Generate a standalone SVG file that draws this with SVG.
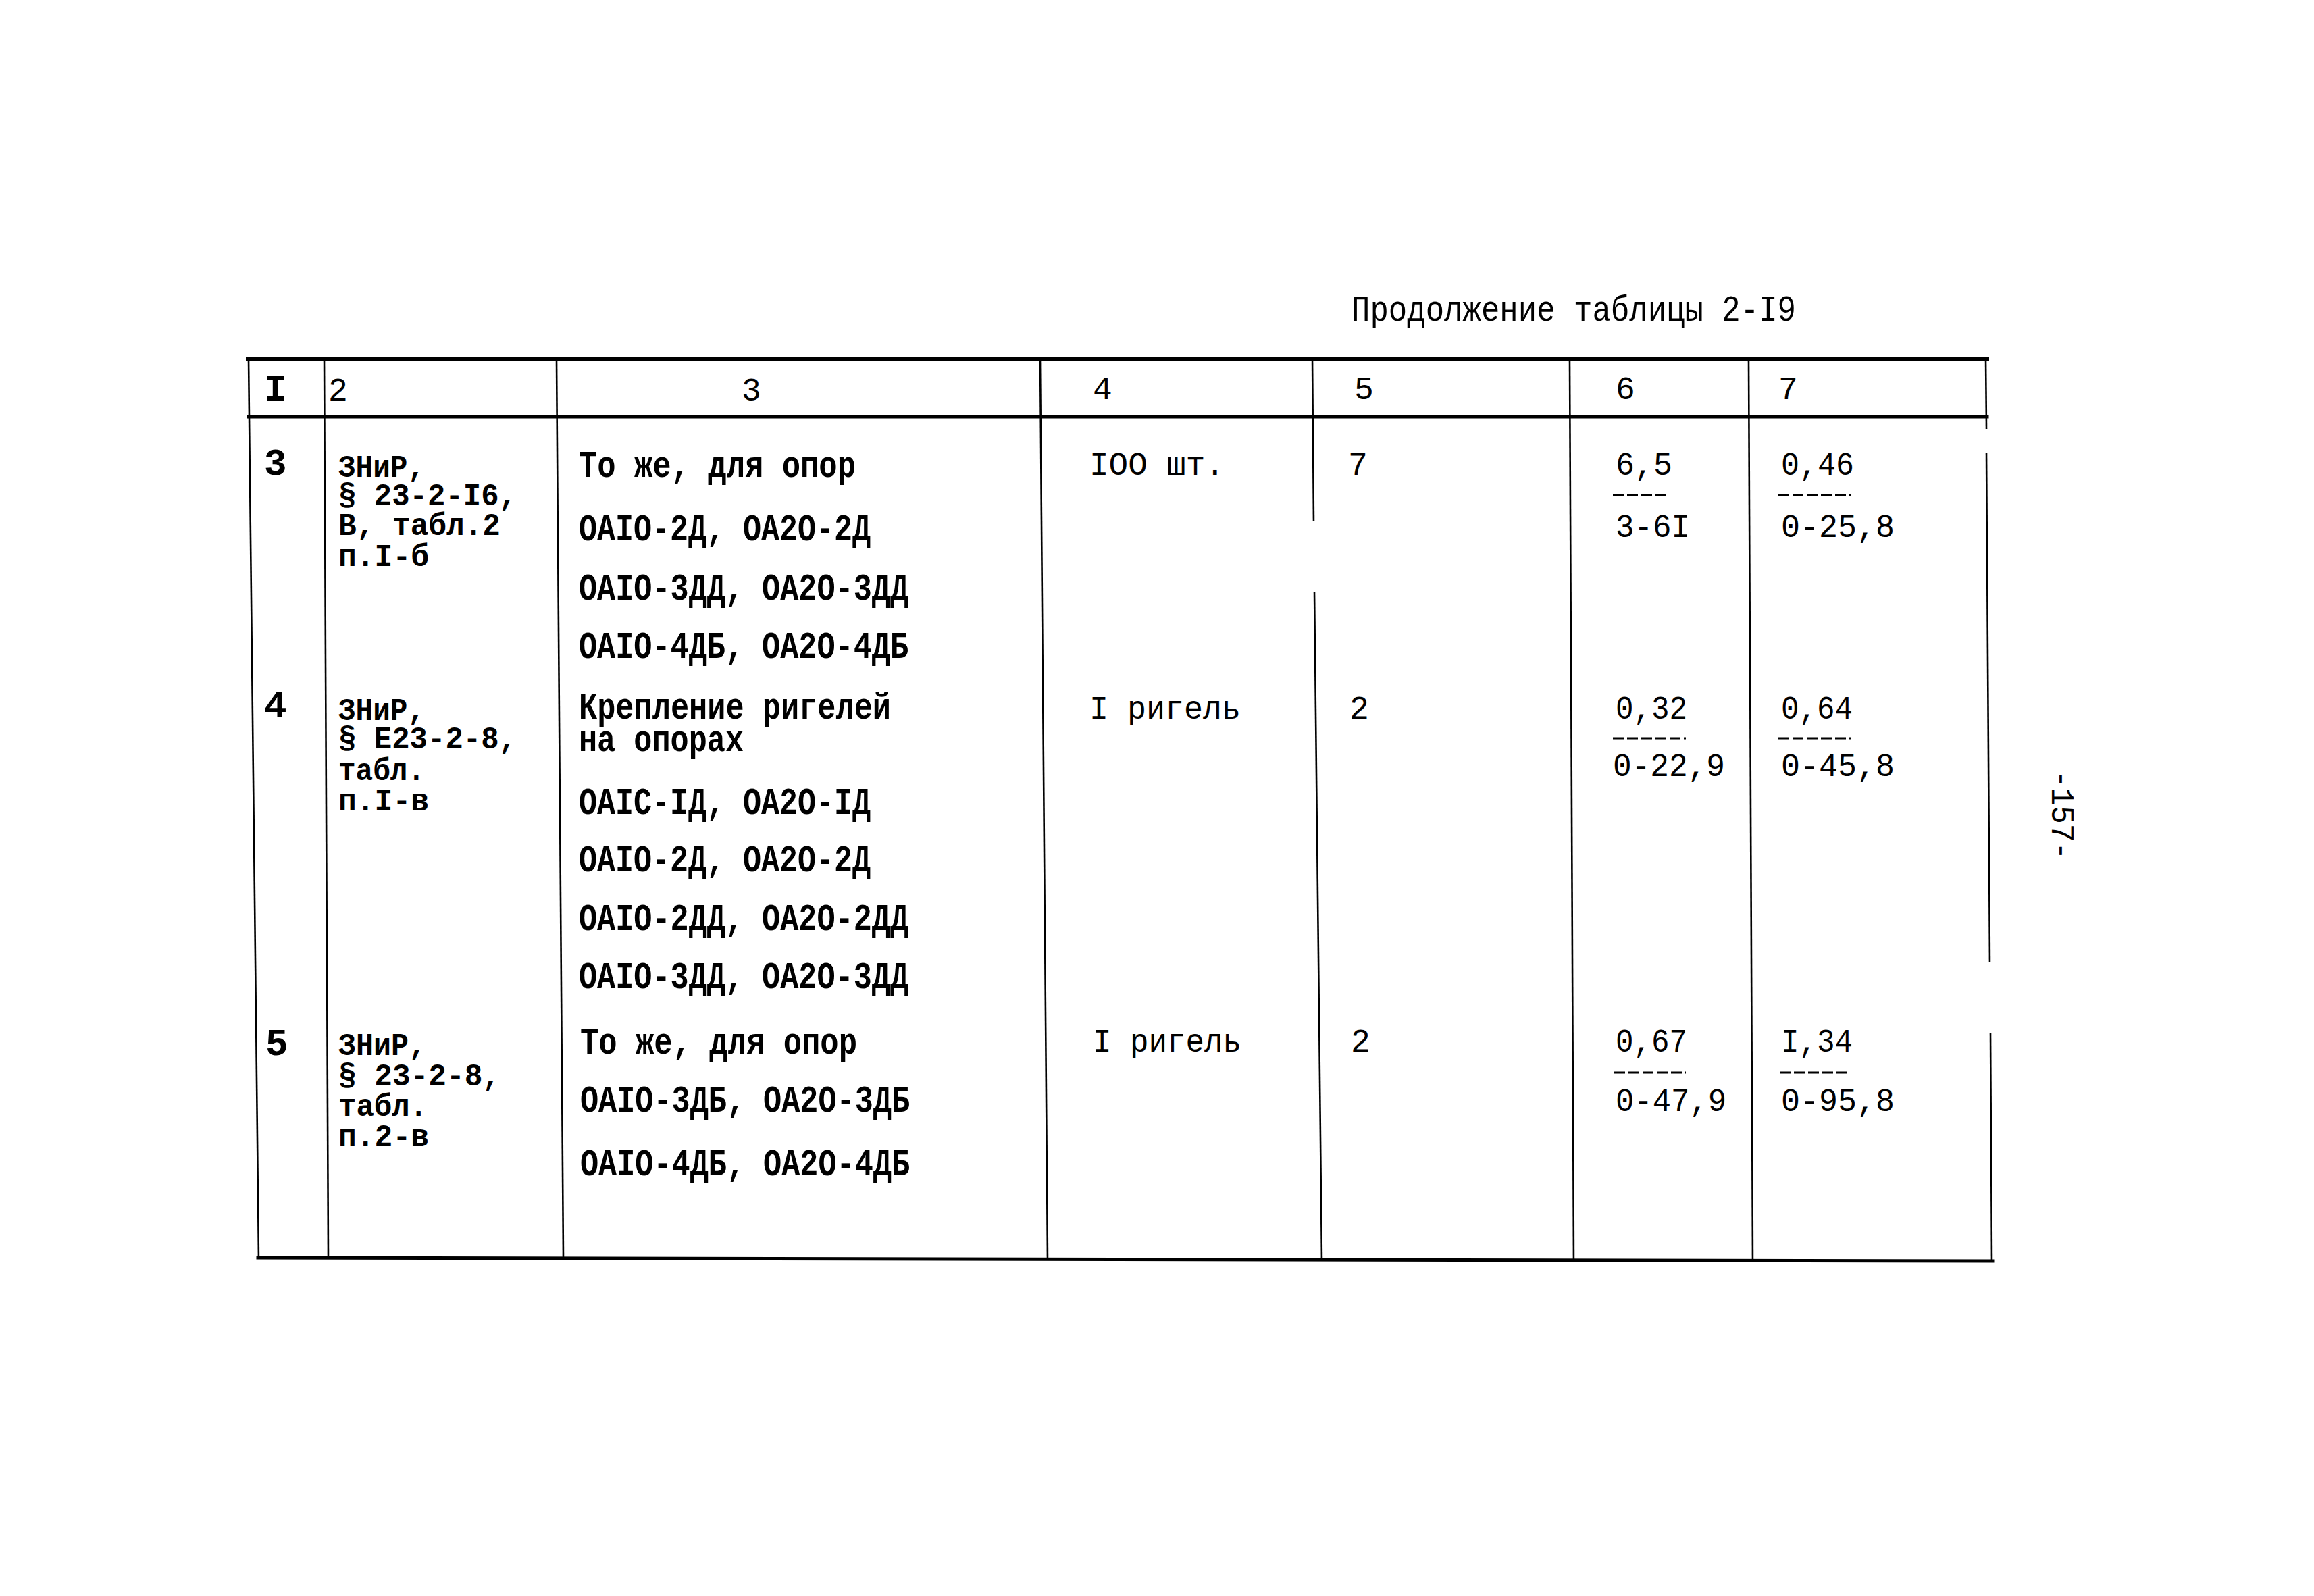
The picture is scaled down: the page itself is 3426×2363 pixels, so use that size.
<svg xmlns="http://www.w3.org/2000/svg" width="3426" height="2363" viewBox="0 0 3426 2363">
<style>
.b{font-family:"Liberation Mono","DejaVu Sans Mono",monospace;font-weight:bold;font-size:56px;fill:#000}
.s{font-family:"Liberation Mono","DejaVu Sans Mono",monospace;font-weight:bold;font-size:46px;fill:#000}
.r{font-family:"Liberation Mono","DejaVu Sans Mono",monospace;font-weight:normal;font-size:48px;fill:#000}
.t{font-family:"Liberation Mono","DejaVu Sans Mono",monospace;font-weight:normal;font-size:54px;fill:#000}
.hl{stroke:#000;fill:none;stroke-linecap:square}
.vl{stroke:#000;stroke-width:2.6;fill:none}
.fr{stroke:#000;stroke-width:3;stroke-dasharray:16 5;fill:none}
</style>
<rect width="3426" height="2363" fill="#fff"/>
<g id="title">
<text class="t" x="2001" y="475" textLength="658" lengthAdjust="spacingAndGlyphs">Продолжение таблицы 2-I9</text>
</g>
<g id="grid">
<line class="hl" x1="367" y1="532" x2="2942" y2="532" stroke-width="6"/>
<line class="hl" x1="368" y1="617" x2="2942" y2="617" stroke-width="5"/>
<line class="hl" x1="382" y1="1862" x2="2950" y2="1867" stroke-width="5"/>
<line class="vl" x1="368" y1="530" x2="383" y2="1864"/>
<line class="vl" x1="480" y1="532" x2="486" y2="1864" stroke-width="3"/>
<line class="vl" x1="824" y1="532" x2="834" y2="1864"/>
<line class="vl" x1="1540" y1="532" x2="1551" y2="1864"/>
<line class="vl" x1="1943" y1="532" x2="1945" y2="772"/>
<line class="vl" x1="1946" y1="877" x2="1957" y2="1866"/>
<line class="vl" x1="2324" y1="532" x2="2330" y2="1866"/>
<line class="vl" x1="2589" y1="532" x2="2595" y2="1866"/>
<line class="vl" x1="2940" y1="528" x2="2941" y2="635"/>
<line class="vl" x1="2941" y1="671" x2="2946" y2="1425"/>
<line class="vl" x1="2947" y1="1530" x2="2949" y2="1867"/>
</g>
<g id="header">
<text class="b" x="391" y="593">I</text>
<text class="r" x="486" y="593" font-size="52">2</text>
<text class="r" x="1098" y="593" font-size="52">3</text>
<text class="r" x="1618" y="591">4</text>
<text class="r" x="2005" y="591">5</text>
<text class="r" x="2392" y="591">6</text>
<text class="r" x="2633" y="591">7</text>
</g>
<g id="row3">
<text class="b" x="391" y="703" font-size="50">3</text>
<text class="s" x="501" y="706" textLength="128" lengthAdjust="spacingAndGlyphs">ЗНиР,</text>
<text class="s" x="501" y="748" textLength="264" lengthAdjust="spacingAndGlyphs">§ 23-2-I6,</text>
<text class="s" x="501" y="792" textLength="240" lengthAdjust="spacingAndGlyphs">В, табл.2</text>
<text class="s" x="501" y="838" textLength="134" lengthAdjust="spacingAndGlyphs">п.I-б</text>
<text class="b" x="857" y="706" textLength="410" lengthAdjust="spacingAndGlyphs">То же, для опор</text>
<text class="b" x="857" y="800" textLength="432" lengthAdjust="spacingAndGlyphs">ОАIО-2Д, ОА2О-2Д</text>
<text class="b" x="857" y="888" textLength="488" lengthAdjust="spacingAndGlyphs">ОАIО-3ДД, ОА2О-3ДД</text>
<text class="b" x="857" y="974" textLength="488" lengthAdjust="spacingAndGlyphs">ОАIО-4ДБ, ОА2О-4ДБ</text>
<text class="r" x="1613" y="703" textLength="200" lengthAdjust="spacingAndGlyphs">IOO шт.</text>
<text class="r" x="1996" y="703">7</text>
<text class="r" x="2392" y="703" textLength="84" lengthAdjust="spacingAndGlyphs">6,5</text>
<line class="fr" x1="2388" y1="733" x2="2472" y2="733"/>
<text class="r" x="2392" y="795" textLength="110" lengthAdjust="spacingAndGlyphs">3-6I</text>
<text class="r" x="2637" y="703" textLength="108" lengthAdjust="spacingAndGlyphs">0,46</text>
<line class="fr" x1="2633" y1="733" x2="2741" y2="733"/>
<text class="r" x="2637" y="795" textLength="168" lengthAdjust="spacingAndGlyphs">0-25,8</text>
</g>
<g id="row4">
<text class="b" x="391" y="1062" font-size="50">4</text>
<text class="s" x="501" y="1066" textLength="128" lengthAdjust="spacingAndGlyphs">ЗНиР,</text>
<text class="s" x="501" y="1108" textLength="264" lengthAdjust="spacingAndGlyphs">§ Е23-2-8,</text>
<text class="s" x="501" y="1155" textLength="128" lengthAdjust="spacingAndGlyphs">табл.</text>
<text class="s" x="501" y="1200" textLength="134" lengthAdjust="spacingAndGlyphs">п.I-в</text>
<text class="b" x="857" y="1064" textLength="462" lengthAdjust="spacingAndGlyphs" font-size="50">Крепление ригелей</text>
<text class="b" x="857" y="1112" textLength="244" lengthAdjust="spacingAndGlyphs" font-size="50">на опорах</text>
<text class="b" x="857" y="1205" textLength="432" lengthAdjust="spacingAndGlyphs">ОАIС-IД, ОА2О-IД</text>
<text class="b" x="857" y="1290" textLength="432" lengthAdjust="spacingAndGlyphs">ОАIО-2Д, ОА2О-2Д</text>
<text class="b" x="857" y="1377" textLength="488" lengthAdjust="spacingAndGlyphs">ОАIО-2ДД, ОА2О-2ДД</text>
<text class="b" x="857" y="1463" textLength="488" lengthAdjust="spacingAndGlyphs">ОАIО-3ДД, ОА2О-3ДД</text>
<text class="r" x="1613" y="1064" textLength="224" lengthAdjust="spacingAndGlyphs">I ригель</text>
<text class="r" x="1998" y="1064">2</text>
<text class="r" x="2392" y="1064" textLength="106" lengthAdjust="spacingAndGlyphs">0,32</text>
<line class="fr" x1="2388" y1="1093" x2="2496" y2="1093"/>
<text class="r" x="2388" y="1149" textLength="166" lengthAdjust="spacingAndGlyphs">0-22,9</text>
<text class="r" x="2637" y="1064" textLength="106" lengthAdjust="spacingAndGlyphs">0,64</text>
<line class="fr" x1="2633" y1="1093" x2="2741" y2="1093"/>
<text class="r" x="2637" y="1149" textLength="168" lengthAdjust="spacingAndGlyphs">0-45,8</text>
</g>
<g id="row5">
<text class="b" x="393" y="1562" font-size="50">5</text>
<text class="s" x="501" y="1562" textLength="130" lengthAdjust="spacingAndGlyphs">ЗНиР,</text>
<text class="s" x="501" y="1607" textLength="240" lengthAdjust="spacingAndGlyphs">§ 23-2-8,</text>
<text class="s" x="501" y="1652" textLength="132" lengthAdjust="spacingAndGlyphs">табл.</text>
<text class="s" x="501" y="1697" textLength="134" lengthAdjust="spacingAndGlyphs">п.2-в</text>
<text class="b" x="859" y="1560" textLength="410" lengthAdjust="spacingAndGlyphs">То же, для опор</text>
<text class="b" x="859" y="1646" textLength="488" lengthAdjust="spacingAndGlyphs">ОАIО-3ДБ, ОА2О-3ДБ</text>
<text class="b" x="859" y="1740" textLength="488" lengthAdjust="spacingAndGlyphs">ОАIО-4ДБ, ОА2О-4ДБ</text>
<text class="r" x="1618" y="1557" textLength="220" lengthAdjust="spacingAndGlyphs">I ригель</text>
<text class="r" x="2000" y="1557">2</text>
<text class="r" x="2392" y="1557" textLength="106" lengthAdjust="spacingAndGlyphs">0,67</text>
<line class="fr" x1="2390" y1="1588" x2="2496" y2="1588"/>
<text class="r" x="2392" y="1645" textLength="164" lengthAdjust="spacingAndGlyphs">0-47,9</text>
<text class="r" x="2637" y="1557" textLength="106" lengthAdjust="spacingAndGlyphs">I,34</text>
<line class="fr" x1="2635" y1="1588" x2="2741" y2="1588"/>
<text class="r" x="2637" y="1645" textLength="168" lengthAdjust="spacingAndGlyphs">0-95,8</text>
</g>
<g id="page-number">
<text class="r" x="3038" y="1140" transform="rotate(90 3038 1140)" textLength="133" lengthAdjust="spacingAndGlyphs" font-size="50">-157-</text>
</g>
</svg>
